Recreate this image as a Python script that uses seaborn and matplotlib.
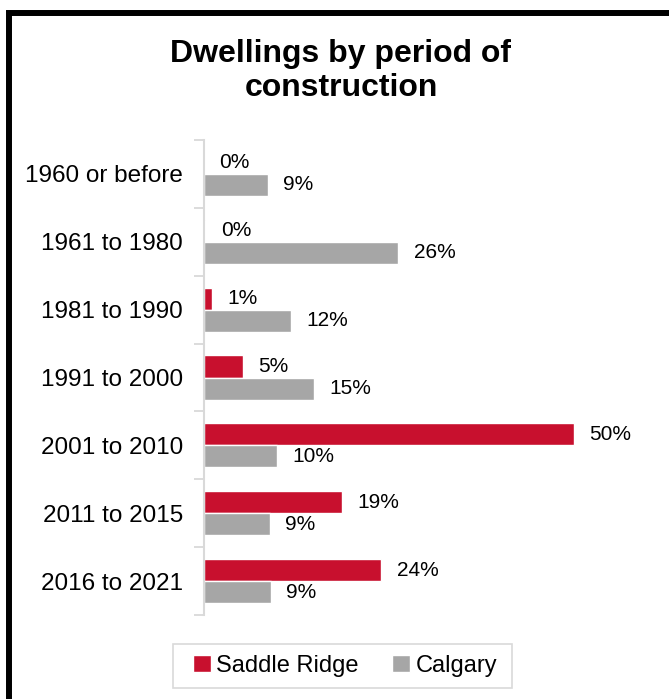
import pandas as pd
import matplotlib.pyplot as plt
import seaborn as sns
from matplotlib.patches import Rectangle

periods = ['1960 or before', '1961 to 1980', '1981 to 1990', '1991 to 2000',
           '2001 to 2010', '2011 to 2015', '2016 to 2021']
saddle_ridge = [0.0, 0.2, 1.1, 5.3, 49.9, 18.6, 23.9]
calgary = [8.6, 26.2, 11.7, 14.8, 9.8, 8.9, 9.0]
series = ['Saddle Ridge', 'Calgary']
colors = ['#C8102E', '#A6A6A6']

df = pd.DataFrame({
    'period': periods * 2,
    'share': saddle_ridge + calgary,
    'area': [series[0]] * len(periods) + [series[1]] * len(periods),
})

sns.set_style('white')
plt.rcParams['font.family'] = ['Liberation Sans', 'DejaVu Sans']
plt.rcParams['text.color'] = 'black'
plt.rcParams['ytick.color'] = 'black'

fig = plt.figure(figsize=(6.69, 6.99), dpi=100)
ax = fig.add_axes([204 / 669, (699 - 615) / 699, (649 - 204) / 669, (615 - 140) / 699])

sns.barplot(data=df, y='period', x='share', hue='area', orient='h',
            palette=colors, width=0.65, saturation=1, ax=ax, legend=True)

# value labels, rounded like the source
for cont, vals in zip(ax.containers, [saddle_ridge, calgary]):
    ax.bar_label(cont, labels=[f'{v:.0f}%' for v in vals], padding=11,
                 fontsize=15, color='black')

ax.set_xlim(0, 60)
ax.set_xlabel('')
ax.set_ylabel('')
ax.set_xticks([])
ax.tick_params(axis='y', which='major', length=0, labelsize=17.5, pad=15, labelcolor='black')
ax.set_yticks([i - 0.5 for i in range(len(periods) + 1)], minor=True)
ax.tick_params(axis='y', which='minor', length=7, width=1.3, color='#D9D9D9', left=True)
for s in ['top', 'right', 'bottom']:
    ax.spines[s].set_visible(False)
ax.spines['left'].set_color('#D9D9D9')
ax.spines['left'].set_linewidth(1.5)

ax.legend(loc='center', bbox_to_anchor=(345 / 669, 1 - 666 / 699), bbox_transform=fig.transFigure,
          ncol=2, frameon=False, fontsize=17,
          handlelength=0.75, handleheight=0.7, handletextpad=0.25, columnspacing=1.4,
          borderpad=0, borderaxespad=0, labelcolor='black')
# legend frame
fig.patches.append(Rectangle((173 / 669, 1 - 688 / 699), 339 / 669, 44 / 699, transform=fig.transFigure,
                             fill=False, edgecolor='#D9D9D9', linewidth=1.2))

fig.text(341 / 669, 1 - 71 / 699, 'Dwellings by period of\nconstruction', ha='center', va='center',
         fontsize=23, fontweight='bold', linespacing=1.2, color='black')

# outer frame, running off the right and bottom edges
fig.patches.append(Rectangle((9 / 669, -0.2), 1.5, 1.2 - 12.5 / 699, transform=fig.transFigure,
                             fill=False, edgecolor='black', linewidth=4.3))

fig.savefig('out.png', dpi=100)
